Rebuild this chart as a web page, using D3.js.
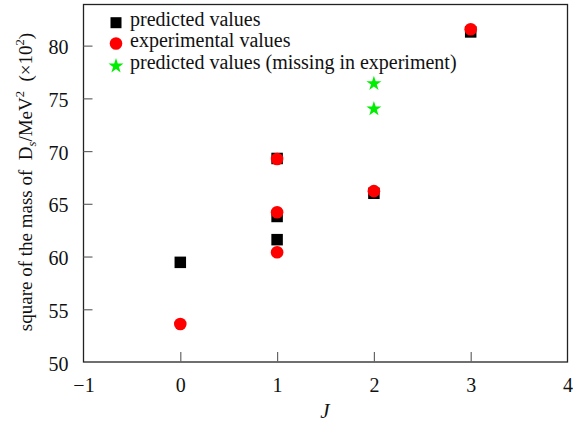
<!DOCTYPE html>
<html><head><meta charset="utf-8">
<script src="https://cdn.jsdelivr.net/npm/d3@7"></script>
<style>body{margin:0;background:#fff}svg{display:block}text{font-family:"Liberation Serif","Times New Roman",serif}</style>
</head><body>
<svg id="c" width="573" height="423"></svg>
<script>
const predJ = [0, 1, 1, 1, 2, 3];
const predV = [59.45, 69.3, 63.8, 61.6, 66.0, 81.3];
const expJ = [0, 1, 1, 1, 2, 3];
const expV = [53.6, 69.25, 64.2, 60.4, 66.2, 81.55];
const missJ = [2, 2];
const missV = [76.4, 74.0];
const xTicks = [-1, 0, 1, 2, 3, 4];
const yTicks = [50, 55, 60, 65, 70, 75, 80];
const legendLabels = ["predicted values", "experimental values", "predicted values (missing in experiment)"];

const svg = d3.select("#c");
const L = 83.5, R = 567.5, T = 4.5, B = 362;
const x = d3.scaleLinear().domain([-1, 4]).range([L, R]);
const y = d3.scaleLinear().domain([50, 83.9]).range([B, T]);

svg.append("rect").attr("x", L).attr("y", T).attr("width", R - L).attr("height", B - T)
  .attr("fill", "none").attr("stroke", "#222").attr("stroke-width", 1.3);

const xa = svg.append("g").attr("transform", `translate(0,${B})`)
  .call(d3.axisBottom(x).tickValues(xTicks).tickSize(-10).tickPadding(16).tickFormat(d => d < 0 ? "\u2212" + Math.abs(d) : d));
xa.select(".domain").remove();
xa.selectAll(".tick line").attr("stroke", "#666").attr("stroke-width", 1.2);
xa.selectAll(".tick text").attr("font-size", 20).attr("fill", "#111");
xa.selectAll(".tick").filter(d => d === -1 || d === 4).select("line").remove();

const ya = svg.append("g").attr("transform", `translate(${L},0)`)
  .call(d3.axisLeft(y).tickValues(yTicks).tickSize(-9).tickPadding(15));
ya.select(".domain").remove();
ya.selectAll(".tick line").attr("stroke", "#666").attr("stroke-width", 1.2);
ya.selectAll(".tick text").attr("font-size", 20).attr("fill", "#111").attr("dy", "0.4em");
ya.selectAll(".tick").filter(d => d === 50).select("line").remove();

const plot = svg.append("g");
const sq = 11.5;
plot.selectAll("rect.p").data(predJ.map((j, i) => [j, predV[i]])).join("rect").attr("class", "p")
  .attr("x", d => x(d[0]) - sq / 2).attr("y", d => y(d[1]) - sq / 2)
  .attr("width", sq).attr("height", sq).attr("fill", "#000");
plot.selectAll("circle.e").data(expJ.map((j, i) => [j, expV[i]])).join("circle").attr("class", "e")
  .attr("cx", d => x(d[0])).attr("cy", d => y(d[1])).attr("r", 6.3).attr("fill", "#ff0000");
const star = d3.symbol().type(d3.symbolStar).size(70);
plot.selectAll("path.m").data(missJ.map((j, i) => [j, missV[i]])).join("path").attr("class", "m")
  .attr("d", star).attr("transform", d => `translate(${x(d[0])},${y(d[1])})`).attr("fill", "#00ee00");

// legend
const lg = svg.append("g");
const ly = [22.7, 43.5, 65];
lg.append("rect").attr("x", 116 - 5.5).attr("y", ly[0] - 5.5).attr("width", 11).attr("height", 11).attr("fill", "#000");
lg.append("circle").attr("cx", 116).attr("cy", ly[1]).attr("r", 6.3).attr("fill", "#ff0000");
lg.append("path").attr("d", star).attr("transform", `translate(116,${ly[2] + 1})`).attr("fill", "#00ee00");
legendLabels.forEach((t, i) => {
  lg.append("text").attr("x", 130).attr("y", ly[i] + 3.5).attr("font-size", 20).attr("fill", "#111").text(t);
});

svg.append("text").attr("x", 325).attr("y", 418).attr("text-anchor", "middle")
  .attr("font-size", 21).attr("font-style", "italic").attr("fill", "#111").text("J");

const yl = svg.append("text").attr("transform", "translate(32,182) rotate(-90)")
  .attr("text-anchor", "middle").attr("font-size", 19).attr("fill", "#111");
yl.append("tspan").text("square of the mass of\u00a0\u00a0D");
yl.append("tspan").attr("font-size", 12.5).attr("font-style", "italic").attr("dy", 4).text("s");
yl.append("tspan").attr("dy", -4).text("/MeV");
yl.append("tspan").attr("font-size", 12.5).attr("dy", -8).text("2");
yl.append("tspan").attr("dy", 8).text("\u00a0\u00a0(\u00d710");
yl.append("tspan").attr("font-size", 12.5).attr("dy", -8).text("2");
yl.append("tspan").attr("dy", 8).text(")");
</script>
</body></html>
